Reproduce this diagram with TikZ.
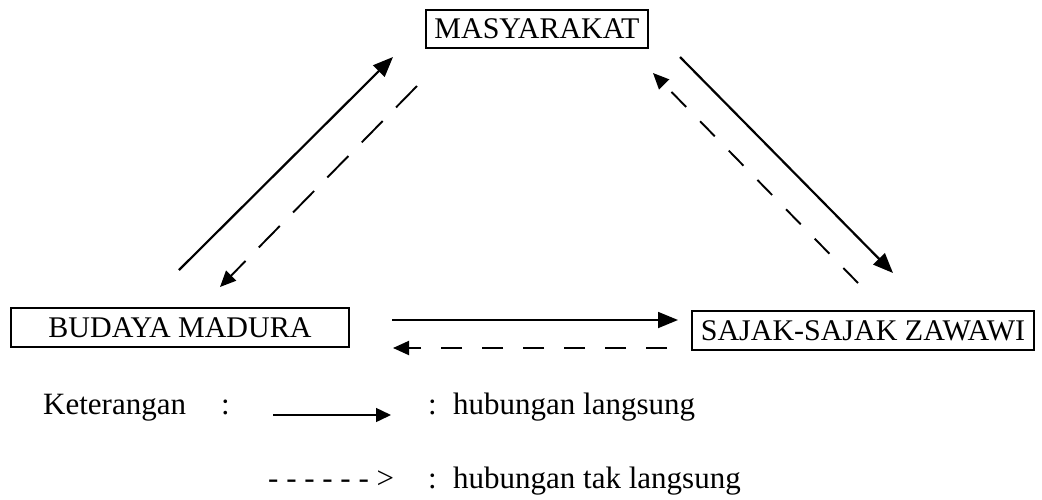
\documentclass[tikz,border=0pt]{standalone}
\usepackage{fontspec}
\setmainfont{Liberation Serif}
\usetikzlibrary{arrows.meta}
\tikzset{
  boxnode/.style={draw, line width=1.2pt, inner sep=0pt, font=\fontsize{30}{32}\selectfont},
  legtext/.style={inner sep=0pt, anchor=base west, font=\fontsize{31}{33}\selectfont},
  solidarrow/.style={line width=2.2pt, -{Triangle[length=20pt,width=16pt]}},
  dasharrow/.style={line width=1.9pt, dash pattern=on 21pt off 20pt, -{Triangle[length=16pt,width=14pt]}},
  legarrow/.style={line width=1.5pt, -{Triangle[length=15pt,width=14pt]}}
}
\begin{document}
\begin{tikzpicture}[x=1pt,y=-1pt]
\useasboundingbox (0,0) rectangle (1042,499);
% boxes
\node[boxnode, minimum width=222pt, minimum height=38pt] (mas) at (537,29) {MASYARAKAT};
\node[boxnode, minimum width=338pt, minimum height=39pt] (bud) at (180,327.5) {BUDAYA MADURA};
\node[boxnode, minimum width=342pt, minimum height=39pt] (saj) at (863,330.5) {SAJAK-SAJAK ZAWAWI};
% connector end points
\coordinate (bm1) at (179,270);
\coordinate (bm2) at (393,57);
\coordinate (mb1) at (417,86);
\coordinate (mb2) at (220,287);
\coordinate (ms1) at (680,57);
\coordinate (ms2) at (893,273);
\coordinate (sm1) at (858,283);
\coordinate (sm2) at (653,73);
\coordinate (bs1) at (392,320);
\coordinate (bs2) at (678,320);
\coordinate (sb1) at (667,348);
\coordinate (sb2) at (393,348);
% connectors
\draw[solidarrow] (bm1) -- (bm2);
\draw[dasharrow, dash pattern=on 30pt off 19pt] (mb1) -- (mb2);
\draw[solidarrow] (ms1) -- (ms2);
\draw[dasharrow] (sm1) -- (sm2);
\draw[solidarrow, line width=1.8pt] (bs1) -- (bs2);
\draw[dasharrow] (sb1) -- (sb2);
% legend
\node[legtext] (ket) at (43,414) {Keterangan};
\node[legtext] (c1) at (221,414) {:};
\coordinate (la1) at (273,415);
\coordinate (la2) at (391,415);
\draw[legarrow] (la1) -- (la2);
\node[legtext] (c2) at (428,414) {:};
\node[legtext] (t1) at (453,414) {hubungan langsung};
\node[legtext] (dl) at (268,488) {- - - - - - >};
\node[legtext] (c3) at (428,488) {:};
\node[legtext] (t2) at (453,488) {hubungan tak langsung};
\end{tikzpicture}
\end{document}
